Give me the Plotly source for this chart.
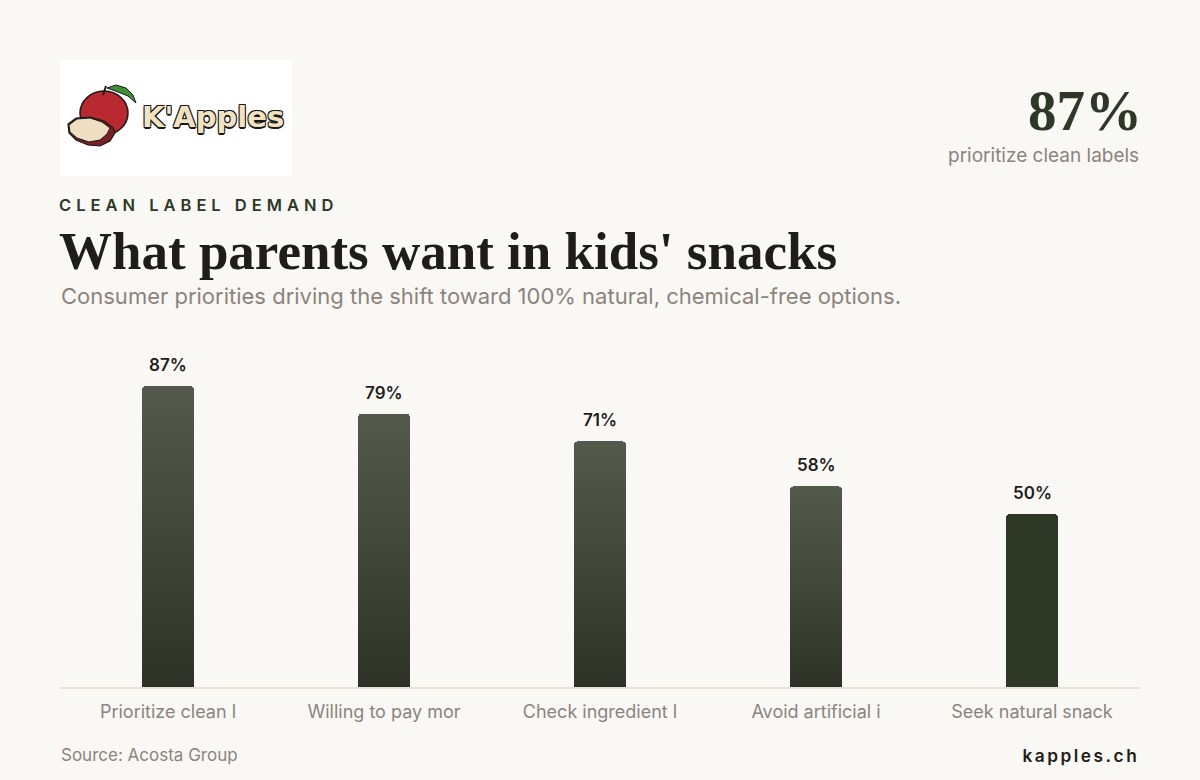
import plotly.graph_objects as go

# ---- data ----
categories = ["Prioritize clean labels", "Willing to pay more", "Check ingredient labels",
              "Avoid artificial ingredients", "Seek natural snacks"]
values = [87, 79, 71, 58, 50]
tick_labels = [c[:18] for c in categories]
gradient_bar = [True, True, True, True, False]

TITLE = "What parents want in kids' snacks"
EYEBROW = "CLEAN LABEL DEMAND"
SUBTITLE = "Consumer priorities driving the shift toward 100% natural, chemical-free options."
KPI_VALUE = "87%"
KPI_LABEL = "prioritize clean labels"
SOURCE = "Source: Acosta Group"
BRAND = "kapples.ch"

# ---- style ----
BG = "#f9f8f4"
DARK_GREEN = "#2d3826"
TOP_C = (0x53, 0x5a, 0x4b)
BOT_C = (0x2e, 0x33, 0x28)
GREY = "#8c847c"
INK = "#1f1d1a"
W, H = 1200, 780
L, R, T, B = 60, 60, 341, 93
PW, PH = W - L - R, H - T - B


def px(x):
    return (x - L) / PW


def py(y):
    return (H - B - y) / PH


def mix(t):
    c = [round(BOT_C[i] + (TOP_C[i] - BOT_C[i]) * t) for i in range(3)]
    return "#%02x%02x%02x" % tuple(c)


N = 40
fig = go.Figure()
for k in range(N):
    t = (k + 0.5) / N
    colors = [mix(t) if g else DARK_GREEN for g in gradient_bar]
    fig.add_trace(go.Bar(
        x=categories, y=[v / N for v in values],
        marker=dict(color=colors, line=dict(width=0)),
        hoverinfo="skip", showlegend=False,
    ))

annotations = []
for c, v in zip(categories, values):
    annotations.append(dict(x=c, y=v, xref="x", yref="y", text=f"{v}%", showarrow=False,
                            yanchor="bottom", yshift=9,
                            font=dict(family="Inter", size=17, color=INK, weight=600)))


def txt(text, x, y, size, color, family="Inter", xanchor="left", weight=400, **kw):
    annotations.append(dict(text=text, x=px(x), y=py(y), xref="paper", yref="paper",
                            xanchor=xanchor, yanchor="middle", showarrow=False,
                            font=dict(family=family, size=size, color=color, weight=weight, **kw)))


txt(EYEBROW, 57, 205, 16.5, DARK_GREEN, weight=600)
txt(TITLE, 57, 251, 53, INK, family="Liberation Serif", weight=700)
txt(SUBTITLE, 59, 296, 22, GREY)
txt(KPI_VALUE, 1144, 111, 57, DARK_GREEN, family="Liberation Serif", xanchor="right", weight=700)
txt(KPI_LABEL, 1141, 155, 19, GREY, xanchor="right")
txt(SOURCE, 59, 755, 17, GREY)
txt(BRAND, 1139, 755, 17.3, INK, xanchor="right", weight=600)
# logo wordmark
txt("K'Apples", 140, 117, 29, "#f1e2c2", family="DejaVu Sans", weight=700,
    shadow="-1px -1px 0 #1a1a1a, 1px -1px 0 #1a1a1a, -1px 1px 0 #1a1a1a, 1px 1px 0 #1a1a1a, 0 1.5px 0 #1a1a1a")


def path(points):
    s = "M " + " L ".join(f"{px(a):.5f},{py(b):.5f}" for a, b in points) + " Z"
    return s


shapes = [
    # logo box
    dict(type="rect", xref="paper", yref="paper", x0=px(60), x1=px(292), y0=py(176), y1=py(60),
         fillcolor="white", line=dict(width=0), layer="below"),
    # apple body
    dict(type="circle", xref="paper", yref="paper", x0=px(80), x1=px(128), y0=py(135), y1=py(91),
         fillcolor="#b8282e", line=dict(color="#1a1a1a", width=1.5)),
    # stem
    dict(type="line", xref="paper", yref="paper", x0=px(103), x1=px(106), y0=py(95), y1=py(86),
         line=dict(color="#1a1a1a", width=2)),
    # leaf
    dict(type="path", xref="paper", yref="paper",
         path=path([(107, 88), (116, 85), (126, 88), (133, 95), (136, 103), (128, 96), (118, 92)]),
         fillcolor="#3f8f3a", line=dict(color="#1a1a1a", width=1)),
    # apple slice (dark rim)
    dict(type="path", xref="paper", yref="paper",
         path=path([(68, 124), (76, 118), (90, 117), (104, 121), (113, 128), (115, 133), (110, 141),
                    (100, 146), (88, 145), (76, 140), (69, 133)]),
         fillcolor="#7a1f22", line=dict(color="#1a1a1a", width=1.2)),
    # apple slice (flesh)
    dict(type="path", xref="paper", yref="paper",
         path=path([(69, 125), (77, 119), (90, 118), (102, 122), (110, 128), (107, 134), (100, 140),
                    (89, 142), (77, 138), (70, 132)]),
         fillcolor="#eedfc2", line=dict(color="#1a1a1a", width=1)),
]

fig.update_layout(
    width=W, height=H,
    margin=dict(l=L, r=R, t=T, b=B),
    paper_bgcolor=BG, plot_bgcolor=BG,
    barmode="stack", bargap=0.76, barcornerradius=4,
    xaxis=dict(tickmode="array", tickvals=categories, ticktext=tick_labels,
               tickfont=dict(family="Inter", size=18, color=GREY),
               showline=True, linecolor="#e8e1d5", linewidth=1.5, showgrid=False,
               ticks="", ticklabelstandoff=8, fixedrange=True),
    yaxis=dict(range=[0, 100], visible=False, showgrid=False, zeroline=False, fixedrange=True),
    annotations=annotations, shapes=shapes,
    showlegend=False,
)

# letter-spacing for the tracked labels (Plotly has no letter-spacing option)
post = """
var gd = document.getElementById('{plot_id}');
function spread(txt, ls, anchor) {
  gd.querySelectorAll('text.annotation-text').forEach(function(el) {
    if (el.textContent === txt) {
      var b0 = el.getBBox();
      el.style.letterSpacing = ls;
      var b1 = el.getBBox();
      var dx = anchor === 'left' ? (b0.x - b1.x) : ((b0.x + b0.width) - (b1.x + b1.width) + parseFloat(ls));
      el.setAttribute('x', parseFloat(el.getAttribute('x') || 0) + dx);
    }
  });
}
spread(%s, '5px', 'left');
spread(%s, '2.5px', 'right');
""" % (repr(EYEBROW), repr(BRAND))

fig.write_html("out.html", post_script=post)
